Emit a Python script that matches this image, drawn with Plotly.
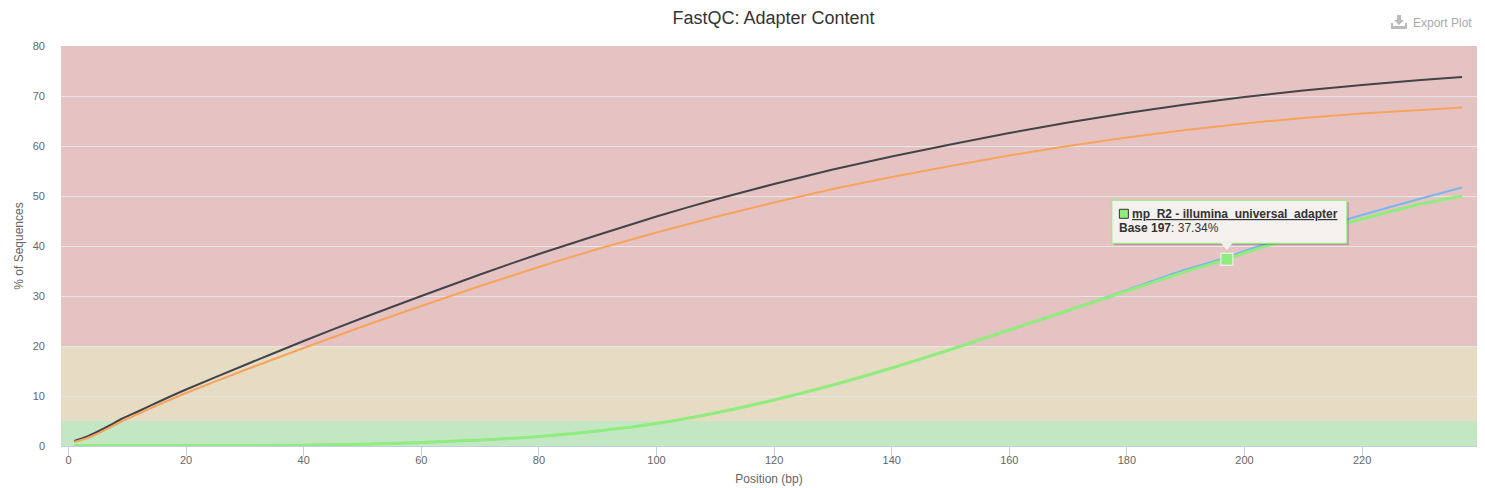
import plotly.graph_objects as go

W, H = 1485, 488
L, R, T, B = 61, 1477, 46, 446

title = "FastQC: Adapter Content"
x_title = "Position (bp)"
y_title = "% of Sequences"
series_names = ["mp_R1 - illumina_universal_adapter", "mp_R1 - nextera_adapter",
                "mp_R2 - nextera_adapter", "mp_R2 - illumina_universal_adapter"]

pos_a = [1, 3, 5, 7, 9, 12, 16, 20, 30, 40, 50, 60, 70, 80, 90, 100, 110, 120, 130, 140, 150, 160, 170, 180, 190, 200, 210, 220, 230, 237]
dark = [1.0, 1.8, 2.9, 4.1, 5.4, 7.0, 9.2, 11.3, 16.2, 21.0, 25.6, 30.0, 34.3, 38.4, 42.2, 45.9, 49.3, 52.4, 55.3, 57.9, 60.3, 62.6, 64.7, 66.6, 68.3, 69.8, 71.1, 72.2, 73.2, 73.8]
orange = [0.8, 1.5, 2.5, 3.7, 4.9, 6.5, 8.6, 10.6, 15.2, 19.6, 23.9, 28.0, 32.0, 35.8, 39.4, 42.7, 45.8, 48.7, 51.4, 53.8, 56.0, 58.1, 60.0, 61.7, 63.2, 64.5, 65.6, 66.5, 67.2, 67.7]

pos_b = [1, 20, 40, 50, 60, 70, 80, 90, 100, 110, 120, 130, 140, 150, 160, 170, 180, 190, 197, 200, 210, 220, 230, 237]
blue = [0.1, 0.1, 0.15, 0.35, 0.7, 1.2, 1.9, 3.0, 4.5, 6.6, 9.2, 12.2, 15.6, 19.3, 23.2, 27.1, 31.2, 35.3, 37.7, 39.0, 42.8, 46.2, 49.5, 51.7]
green = [0.1, 0.1, 0.15, 0.35, 0.7, 1.2, 1.9, 3.0, 4.5, 6.6, 9.2, 12.2, 15.6, 19.3, 23.2, 27.1, 31.0, 34.9, 37.34, 38.6, 42.2, 45.4, 48.4, 50.0]

hover_x = [197]
hover_y = [37.34]

x_ticks = [0, 20, 40, 60, 80, 100, 120, 140, 160, 180, 200, 220]
y_ticks = [0, 10, 20, 30, 40, 50, 60, 70, 80]
bands = [(0, 5, "#c3e6c3"), (5, 20, "#e6dcc3"), (20, 80, "#e6c3c3")]

def px(v):
    return (v - L) / (R - L)
def py(v):
    return (B - v) / (B - T)

fig = go.Figure()
for xs, ys, name, color, width in [
    (pos_a, dark, series_names[0], "#434348", 2),
    (pos_a, orange, series_names[1], "#f7a35c", 2),
    (pos_b, blue, series_names[2], "#7cb5ec", 2),
    (pos_b, green, series_names[3], "#90ed7d", 3),
]:
    fig.add_trace(go.Scatter(x=xs, y=ys, name=name, mode="lines", cliponaxis=False,
                             line=dict(color=color, width=width, shape="spline", smoothing=0.6)))

fig.add_trace(go.Scatter(x=hover_x, y=hover_y, mode="markers", showlegend=False,
                         marker=dict(symbol="square", size=12, color="#90ed7d",
                                     line=dict(color="rgba(255,255,255,0.6)", width=1.5))))

shapes = []
for y0, y1, c in bands:
    shapes.append(dict(type="rect", xref="paper", yref="y", x0=0, x1=1, y0=y0, y1=y1,
                       fillcolor=c, line_width=0, layer="below"))

# tooltip, anchored to the hovered point
ax, ay = hover_x[0], hover_y[0]
def anch_rect(x0, x1, y0, y1, **kw):
    return dict(type="rect", xref="x", yref="y", xsizemode="pixel", ysizemode="pixel",
                xanchor=ax, yanchor=ay, x0=x0, x1=x1, y0=y0, y1=y1, **kw)

shapes.append(anch_rect(-113, 122, 14, 57, fillcolor="rgba(0,0,0,0.2)", line_width=0, layer="above"))
shapes.append(anch_rect(-115, 120, 16, 59, fillcolor="rgba(244,241,239,1)",
                        line=dict(color="#90ed7d", width=1), layer="above"))
shapes.append(dict(type="path", xref="x", yref="y", xsizemode="pixel", ysizemode="pixel",
                   xanchor=ax, yanchor=ay, path="M -6 16.5 L 0 9 L 6 16.5 Z",
                   fillcolor="rgba(244,241,239,1)", line=dict(color="#90ed7d", width=0), layer="above"))
shapes.append(anch_rect(-107.5, -98.5, 41, 50, fillcolor="#90ed7d", line=dict(color="#333333", width=1), layer="above"))

# export icon
shapes.append(dict(type="path", xref="paper", yref="paper", layer="above",
                   path=f"M {px(1391)} {py(23)} L {px(1391)} {py(29)} L {px(1407)} {py(29)} L {px(1407)} {py(23)} "
                        f"L {px(1405)} {py(23)} L {px(1405)} {py(26)} L {px(1393)} {py(26)} L {px(1393)} {py(23)} Z",
                   fillcolor="#bbbbbb", line_width=0))
shapes.append(dict(type="path", xref="paper", yref="paper", layer="above",
                   path=f"M {px(1397)} {py(15)} L {px(1401)} {py(15)} L {px(1401)} {py(20)} L {px(1404)} {py(20)} "
                        f"L {px(1399)} {py(25)} L {px(1394)} {py(20)} L {px(1397)} {py(20)} Z",
                   fillcolor="#bbbbbb", line_width=0))

annotations = [
    dict(x=ax, y=ay, xref="x", yref="y", xanchor="left", yanchor="middle", xshift=-97, yshift=45,
         text=f"<b><u>{series_names[3]}</u></b>", showarrow=False,
         font=dict(size=12, color="#333333", family="Liberation Sans, Arial, sans-serif")),
    dict(x=ax, y=ay, xref="x", yref="y", xanchor="left", yanchor="middle", xshift=-110, yshift=31,
         text=f"<b>Base {hover_x[0]}</b>: {hover_y[0]:.2f}%", showarrow=False,
         font=dict(size=12, color="#333333", family="Liberation Sans, Arial, sans-serif")),
    dict(x=px(1474), y=py(23), xref="paper", yref="paper", xanchor="right", yanchor="middle",
         text="Export Plot", showarrow=False,
         font=dict(size=12, color="#aaaaaa", family="Liberation Sans, Arial, sans-serif")),
]

fig.update_layout(
    width=W, height=H, autosize=False,
    margin=dict(l=L, r=W - R, t=T, b=H - B, pad=0),
    paper_bgcolor="white", plot_bgcolor="white",
    showlegend=False,
    font=dict(family="Liberation Sans, Arial, sans-serif", size=11, color="#666666"),
    title=dict(text=title, x=773.5 / W, xanchor="center", y=1 - 18 / H, yanchor="middle",
               font=dict(size=18, color="#333333")),
    shapes=shapes, annotations=annotations,
    xaxis=dict(range=[(L - 68.5) / 5.88, (R - 68.5) / 5.88], tickvals=x_ticks, ticks="outside",
               ticklen=9, tickcolor="#c0d0e0", tickwidth=1, showgrid=False, zeroline=False,
               showline=True, linecolor="#c0d0e0", linewidth=1, automargin=False,
               ticklabelstandoff=-5,
               tickfont=dict(size=11, color="#666666"),
               title=dict(text=x_title, standoff=9, font=dict(size=12, color="#666666"))),
    yaxis=dict(range=[0, 80], tickvals=y_ticks, ticks="", showgrid=True, gridcolor="#e6e6e6",
               gridwidth=1, zeroline=False, showline=False, ticklabelstandoff=15, automargin=False,
               tickfont=dict(size=11, color="#666666"),
               title=dict(text=y_title, standoff=6, font=dict(size=12, color="#666666"))),
)

fig.write_html("out.html", post_script="document.body.style.margin='0';",
               config=dict(displayModeBar=False))
